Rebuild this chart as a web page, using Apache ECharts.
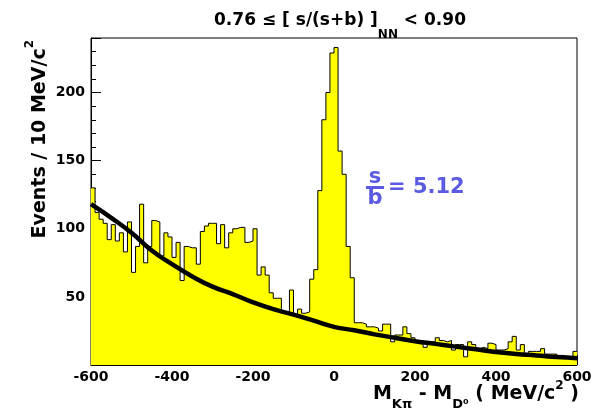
<!DOCTYPE html>
<html>
<head>
<meta charset="utf-8">
<script src="https://cdn.jsdelivr.net/npm/echarts@6/dist/echarts.min.js"></script>
<style>
html, body { margin: 0; padding: 0; background: #fff; }
#main { width: 600px; height: 413px; }
</style>
</head>
<body>
<div id="main"></div>
<script>
// 直方图: 每个 bin 10 MeV/c^2, 从 -600 到 600
var binLow = -600;
var binWidth = 10;
var counts = [
    130, 112, 107, 104, 92, 103, 91, 97, 83, 105,
    68, 87, 118, 75, 87, 106, 105, 80, 97, 94,
    79, 90, 62, 87, 86, 86, 74, 98, 102, 104,
    104, 89, 103, 86, 97, 100, 101, 101, 90, 91,
    100, 66, 72, 66, 53, 49, 49, 38, 37, 55,
    37, 41, 38, 39, 63, 70, 128, 180, 200, 229,
    233, 157, 140, 87, 64, 31, 31, 30, 28, 28,
    27, 25, 30, 30, 17, 22, 22, 28, 23, 20,
    18, 18, 13, 17, 17, 20, 18, 17, 18, 11,
    15, 15, 6, 17, 15, 12, 13, 12, 16, 15,
    11, 11, 12, 17, 21, 11, 15, 7, 10, 10,
    10, 12, 8, 8, 8, 5, 7, 5, 4, 10
];
// 拟合曲线
var fitX = [-600, -550, -500, -450, -400, -350, -300, -250, -200, -150, -100, -50, 0,
    50, 100, 150, 200, 250, 300, 350, 400, 450, 500, 550, 600];
var fitY = [118, 108, 97, 84, 74, 65, 57.5, 52, 46, 41, 37, 32.5, 28,
    25.5, 22.5, 20, 17.5, 15.5, 13.5, 11.5, 9.5, 8, 7, 5.8, 5];
var xRange = [-600, 600];
var yRange = [0, 240];

(function () {
    var myChart = echarts.init(document.getElementById('main'));

    // 阶梯线数据: bin 左边界 + 最后一个右边界
    var histData = counts.map(function (c, i) {
        return [binLow + i * binWidth, c];
    });
    histData.push([binLow + counts.length * binWidth, counts[counts.length - 1]]);

    var fitData = fitX.map(function (x, i) {
        return [x, fitY[i]];
    });

    var font = 'DejaVu Sans';
    var blue = '#5a5ae2';

    var option = {
        animation: false,
        backgroundColor: '#fff',
        grid: {
            left: 91,
            right: 23,
            top: 38,
            bottom: 48,
            show: true,
            borderColor: '#000',
            borderWidth: 1,
            backgroundColor: 'transparent'
        },
        xAxis: {
            type: 'value',
            min: xRange[0],
            max: xRange[1],
            interval: 200,
            axisLine: { show: true, onZero: false, lineStyle: { color: '#000', width: 1 } },
            axisTick: { show: true, inside: true, length: 10, lineStyle: { color: '#000' } },
            minorTick: { show: true, splitNumber: 4, length: 5, lineStyle: { color: '#000' } },
            splitLine: { show: false },
            axisLabel: {
                color: '#000',
                fontFamily: font,
                fontWeight: 'bold',
                fontSize: 14,
                margin: 5
            }
        },
        yAxis: {
            type: 'value',
            min: yRange[0],
            max: yRange[1],
            interval: 50,
            axisLine: { show: true, onZero: false, lineStyle: { color: '#000', width: 1 } },
            axisTick: { show: true, inside: true, length: 10, lineStyle: { color: '#000' } },
            minorTick: { show: true, splitNumber: 5, length: 5, lineStyle: { color: '#000' } },
            splitLine: { show: false },
            axisLabel: {
                color: '#000',
                fontFamily: font,
                fontWeight: 'bold',
                fontSize: 14,
                margin: 6,
                showMinLabel: false,
                showMaxLabel: false
            }
        },
        series: [
            {
                name: 'data',
                type: 'line',
                step: 'end',
                data: histData,
                symbol: 'none',
                lineStyle: { color: '#000', width: 1 },
                areaStyle: { color: '#ffff00', opacity: 1 },
                z: 2
            },
            {
                name: 'fit',
                type: 'line',
                smooth: true,
                data: fitData,
                symbol: 'none',
                lineStyle: { color: '#000', width: 4.5 },
                z: 3
            }
        ],
        graphic: [
            // 标题
            {
                type: 'text',
                x: 340,
                y: 12,
                style: {
                    text: '{t|0.76 ≤ [ s/(s+b) ]}{n|NN}{t| < 0.90}',
                    align: 'center',
                    verticalAlign: 'top',
                    rich: {
                        t: { fontFamily: font, fontWeight: 'bold', fontSize: 17, lineHeight: 22, verticalAlign: 'top', fill: '#000' },
                        n: { fontFamily: font, fontWeight: 'bold', fontSize: 12, lineHeight: 14, padding: [17, 0, 0, 0], verticalAlign: 'top', fill: '#000' }
                    }
                }
            },
            // x 轴标题
            {
                type: 'text',
                x: 579,
                y: 378,
                style: {
                    text: '{m|M}{s|Kπ}{m| - M}{s|D⁰}{m| ( MeV/c}{p|2}{m| )}',
                    align: 'right',
                    verticalAlign: 'top',
                    rich: {
                        m: { fontFamily: font, fontWeight: 'bold', fontSize: 19, lineHeight: 19, padding: [7, 0, 0, 0], verticalAlign: 'top', fill: '#000' },
                        s: { fontFamily: font, fontWeight: 'bold', fontSize: 13, lineHeight: 13, padding: [20, 0, 0, 0], verticalAlign: 'top', fill: '#000' },
                        p: { fontFamily: font, fontWeight: 'bold', fontSize: 12, lineHeight: 14, padding: [2, 0, 0, 0], verticalAlign: 'top', fill: '#000' }
                    }
                }
            },
            // y 轴标题
            {
                type: 'text',
                x: 24,
                y: 40,
                rotation: Math.PI / 2,
                style: {
                    text: '{m|Events / 10 MeV/c}{p|2}',
                    align: 'right',
                    verticalAlign: 'top',
                    rich: {
                        m: { fontFamily: font, fontWeight: 'bold', fontSize: 19, lineHeight: 19, padding: [7, 0, 0, 0], verticalAlign: 'top', fill: '#000' },
                        p: { fontFamily: font, fontWeight: 'bold', fontSize: 12, lineHeight: 14, verticalAlign: 'top', fill: '#000' }
                    }
                }
            },
            // s/b 注释
            {
                type: 'text',
                x: 375,
                y: 178,
                style: { text: 's', fontFamily: font, fontWeight: 'bold', fontSize: 21, fill: blue, align: 'center', verticalAlign: 'middle' }
            },
            {
                type: 'rect',
                shape: { x: 366, y: 186, width: 18, height: 3 },
                style: { fill: blue }
            },
            {
                type: 'text',
                x: 375,
                y: 199,
                style: { text: 'b', fontFamily: font, fontWeight: 'bold', fontSize: 21, fill: blue, align: 'center', verticalAlign: 'middle' }
            },
            {
                type: 'text',
                x: 388,
                y: 188,
                style: { text: '= 5.12', fontFamily: font, fontWeight: 'bold', fontSize: 21, fill: blue, align: 'left', verticalAlign: 'middle' }
            }
        ]
    };
    myChart.setOption(option);
    window.addEventListener('resize', function () {
        myChart.resize();
    });
})();
</script>
</body>
</html>
